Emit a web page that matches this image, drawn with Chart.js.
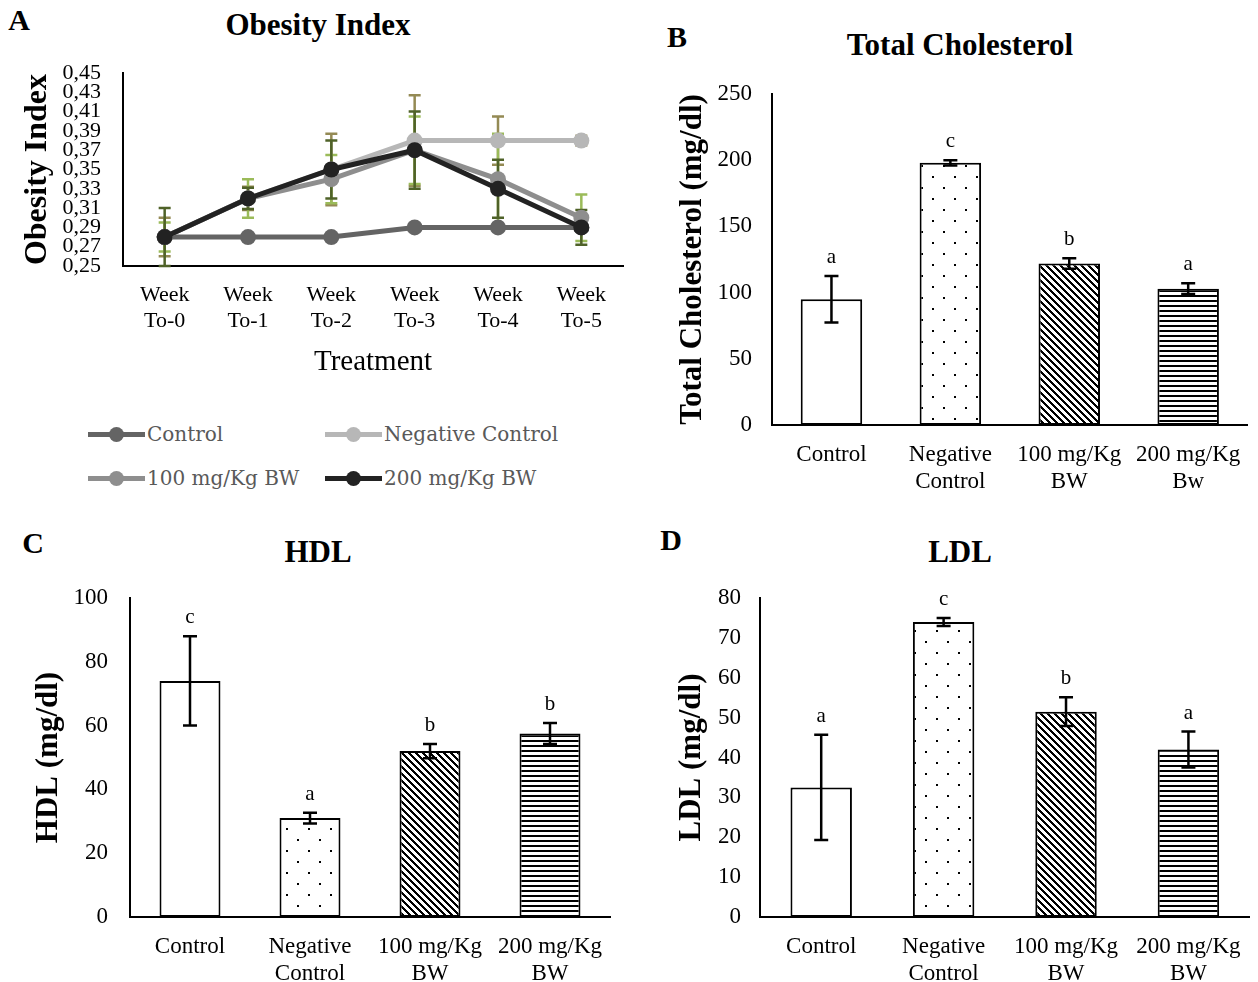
<!DOCTYPE html>
<html><head><meta charset="utf-8">
<script src="https://cdn.jsdelivr.net/npm/chart.js@4.4.0/dist/chart.umd.min.js"></script>
<style>
html,body{margin:0;padding:0;background:#fff;}
body{width:1258px;height:982px;position:relative;overflow:hidden;font-family:"Liberation Serif","Times New Roman",serif;}
canvas{position:absolute;}
.lbl{position:absolute;transform:translate(-50%,-50%);white-space:nowrap;font-weight:bold;color:#000;line-height:1;}
.title{font-size:31px;}
.panel{font-size:30px;}
.leg{position:absolute;height:30px;font-family:"DejaVu Serif",serif;font-size:20px;color:#595959;white-space:nowrap;}
.leg .smp{position:absolute;left:0;top:13px;width:57px;height:5px;}
.leg .dot{position:absolute;left:21px;top:8px;width:15px;height:15px;border-radius:50%;}
.leg .txt{position:absolute;left:59px;top:2px;line-height:26px;}
</style></head><body>
<div class="lbl panel" style="left:19px;top:20px">A</div>
<div class="lbl title" style="left:318px;top:24px">Obesity Index</div>
<div class="lbl panel" style="left:677px;top:37px">B</div>
<div class="lbl title" style="left:960px;top:44px">Total Cholesterol</div>
<div class="lbl panel" style="left:33px;top:543px">C</div>
<div class="lbl title" style="left:318px;top:551px">HDL</div>
<div class="lbl panel" style="left:671px;top:540px">D</div>
<div class="lbl title" style="left:960px;top:551px">LDL</div>

<canvas id="cA" width="640" height="400" style="left:0;top:0;width:640px;height:400px"></canvas>
<canvas id="cB" width="590" height="505" style="left:668px;top:0;width:590px;height:505px"></canvas>
<canvas id="cC" width="640" height="462" style="left:0;top:520px;width:640px;height:462px"></canvas>
<canvas id="cD" width="608" height="462" style="left:650px;top:520px;width:608px;height:462px"></canvas>
<div id="legendA"></div>

<script>
// ---------- DATA ----------
const weekLabels = [['Week','To-0'],['Week','To-1'],['Week','To-2'],['Week','To-3'],['Week','To-4'],['Week','To-5']];
const obesityTickLabels = ['0,25','0,27','0,29','0,31','0,33','0,35','0,37','0,39','0,41','0,43','0,45'];
const seriesNames = ['Control','Negative Control','100 mg/Kg BW','200 mg/Kg BW'];
const oiControl  = [0.28, 0.28, 0.28, 0.29, 0.29, 0.29];
const oiNegative = [0.28, 0.32, 0.35, 0.38, 0.38, 0.38];
const oi100      = [0.28, 0.32, 0.34, 0.37, 0.34, 0.30];
const oi200      = [0.28, 0.32, 0.35, 0.37, 0.33, 0.29];
const oiControlErr  = [0.003, 0.002, 0.002, 0.002, 0.002, 0.002];
const oiNegativeErr = [0.020, 0.012, 0.037, 0.047, 0.025, 0.005];
const oi100Err      = [0.015, 0.020, 0.025, 0.035, 0.047, 0.024];
const oi200Err      = [0.030, 0.011, 0.030, 0.040, 0.030, 0.018];

const groupLabels   = [['Control'],['Negative','Control'],['100 mg/Kg','BW'],['200 mg/Kg','BW']];
const groupLabelsTC = [['Control'],['Negative','Control'],['100 mg/Kg','BW'],['200 mg/Kg','Bw']];
const tcValues  = [95, 198, 122, 103];
const tcErr     = [17.5, 2, 4, 4];
const tcLetters = ['a','c','b','a'];
const hdlValues  = [74, 31, 52, 57.5];
const hdlErr     = [14, 1.7, 2.2, 3.3];
const hdlLetters = ['c','a','b','b'];
const ldlValues  = [32.5, 74, 51.5, 42];
const ldlErr     = [13.2, 1, 3.6, 4.5];
const ldlLetters = ['a','c','b','a'];

// ---------- STYLE ----------
const SERIF = '"Liberation Serif", "Times New Roman", serif';
const lineColors = ['#646464','#b7b7b7','#8e8e8e','#222222'];
const errColors  = ['#4f81bd','#948a54','#9bbb59','#4f6228'];

const errorBarPlugin = {
  id: 'errorBars',
  _draw(chart, layer) {
    const ctx = chart.ctx, y = chart.scales.y;
    chart.data.datasets.forEach((ds, di) => {
      const eb = ds.errorBars;
      if (!eb || eb.layer !== layer) return;
      const meta = chart.getDatasetMeta(di);
      ctx.save();
      ctx.strokeStyle = eb.color; ctx.lineWidth = eb.width; ctx.lineCap = 'butt';
      meta.data.forEach((el, i) => {
        const v = ds.data[i], e = eb.values[i];
        const x = el.x, y1 = y.getPixelForValue(v + e), y2 = y.getPixelForValue(v - e);
        ctx.beginPath();
        ctx.moveTo(x, y1); ctx.lineTo(x, y2);
        ctx.moveTo(x - eb.cap, y1); ctx.lineTo(x + eb.cap, y1);
        ctx.moveTo(x - eb.cap, y2); ctx.lineTo(x + eb.cap, y2);
        ctx.stroke();
      });
      ctx.restore();
    });
  },
  beforeDatasetsDraw(chart) { this._draw(chart, 'before'); },
  afterDatasetsDraw(chart) { this._draw(chart, 'after'); }
};

const letterPlugin = {
  id: 'sigLetters',
  afterDatasetsDraw(chart) {
    const ctx = chart.ctx, y = chart.scales.y;
    chart.data.datasets.forEach((ds, di) => {
      if (!ds.sigLetters) return;
      const meta = chart.getDatasetMeta(di);
      ctx.save();
      ctx.fillStyle = '#000'; ctx.font = '21px ' + SERIF;
      ctx.textAlign = 'center'; ctx.textBaseline = 'alphabetic';
      meta.data.forEach((el, i) => {
        const top = y.getPixelForValue(ds.data[i] + ds.errorBars.values[i]);
        ctx.fillText(ds.sigLetters[i], el.x, top - 13);
      });
      ctx.restore();
    });
  }
};

function makePattern(ctx, type) {
  const c = document.createElement('canvas');
  const g = c.getContext('2d');
  if (type === 'dots') {
    c.width = 22; c.height = 22;
    g.fillStyle = '#fff'; g.fillRect(0, 0, 22, 22);
    g.fillStyle = '#000'; g.fillRect(0, 0, 2, 2); g.fillRect(11, 11, 2, 2);
  } else if (type === 'diag') {
    c.width = 7; c.height = 7;
    g.fillStyle = '#fff'; g.fillRect(0, 0, 7, 7);
    g.fillStyle = '#000';
    for (let r = 0; r < 7; r++) for (let k = 0; k < 3; k++) g.fillRect((r + k) % 7, r, 1, 1);
  } else {
    c.width = 5; c.height = 5;
    g.fillStyle = '#fff'; g.fillRect(0, 0, 5, 5);
    g.fillStyle = '#000'; g.fillRect(0, 0, 5, 2);
  }
  return ctx.createPattern(c, 'repeat');
}

// ---------- PANEL A ----------
(function () {
  const ctx = document.getElementById('cA').getContext('2d');
  const vals = [oiControl, oiNegative, oi100, oi200];
  const errs = [oiControlErr, oiNegativeErr, oi100Err, oi200Err];
  const datasets = vals.map((v, i) => ({
    label: seriesNames[i], data: v,
    borderColor: lineColors[i], backgroundColor: lineColors[i],
    pointBackgroundColor: lineColors[i], pointBorderWidth: 0,
    borderWidth: 5, pointRadius: 8, tension: 0, order: 3 - i,
    errorBars: { values: errs[i], color: errColors[i], width: 2.5, cap: 6, layer: 'before' }
  }));
  new Chart(ctx, {
    type: 'line',
    data: { labels: weekLabels, datasets },
    options: {
      responsive: false, animation: false, events: [], devicePixelRatio: 1,
      layout: { padding: { top: 73, right: 17, bottom: 0, left: 0 } },
      plugins: { legend: { display: false }, tooltip: { enabled: false } },
      scales: {
        x: {
          offset: true,
          grid: { display: false, drawTicks: false },
          border: { display: true, color: '#000', width: 2 },
          ticks: { font: { family: SERIF, size: 22, lineHeight: 1.2 }, color: '#000', padding: 16, maxRotation: 0, autoSkip: false },
          title: { display: true, text: 'Treatment', color: '#000', font: { family: SERIF, size: 29 }, padding: { top: 0, bottom: 20 } },
          afterFit(s) { s.height = 134; }
        },
        y: {
          min: 0.25, max: 0.45,
          grid: { display: false, drawTicks: false },
          border: { display: true, color: '#000', width: 2 },
          ticks: { stepSize: 0.02, autoSkip: false, color: '#000', padding: 22,
                   font: { family: SERIF, size: 22, lineHeight: 1 },
                   callback: (v, i) => obesityTickLabels[i] },
          title: { display: true, text: 'Obesity Index', color: '#000', font: { family: SERIF, size: 32, weight: 'bold' }, padding: { top: 19, bottom: 0 } },
          afterFit(s) { s.width = 123; }
        }
      }
    },
    plugins: [errorBarPlugin]
  });
  // legend
  const pos = [[88, 419], [325, 419], [88, 463], [325, 463]];
  const leg = document.getElementById('legendA');
  seriesNames.forEach((n, i) => {
    const d = document.createElement('div');
    d.className = 'leg';
    d.style.left = pos[i][0] + 'px'; d.style.top = pos[i][1] + 'px';
    d.innerHTML = '<div class="smp" style="background:' + lineColors[i] + '"></div>' +
                  '<div class="dot" style="background:' + lineColors[i] + '"></div>' +
                  '<div class="txt"></div>';
    d.querySelector('.txt').textContent = n;
    leg.appendChild(d);
  });
})();

// ---------- BAR PANELS ----------
function makeBar(id, c) {
  const ctx = document.getElementById(id).getContext('2d');
  const fills = ['#ffffff', makePattern(ctx, 'dots'), makePattern(ctx, 'diag'), makePattern(ctx, 'horiz')];
  return new Chart(ctx, {
    type: 'bar',
    data: { labels: c.labels, datasets: [{
      data: c.values, backgroundColor: fills, borderColor: '#000', borderWidth: 2, borderSkipped: false,
      barPercentage: c.barPct, categoryPercentage: 1,
      errorBars: { values: c.errs, color: '#000', width: 2.5, cap: 7, layer: 'after' },
      sigLetters: c.letters
    }] },
    options: {
      responsive: false, animation: false, events: [], devicePixelRatio: 1,
      layout: { padding: { top: c.top, right: c.right, bottom: 0, left: 0 } },
      plugins: { legend: { display: false }, tooltip: { enabled: false } },
      scales: {
        x: {
          grid: { display: false, drawTicks: false },
          border: { display: true, color: '#000', width: 2 },
          ticks: { font: { family: SERIF, size: 23, lineHeight: 1.15 }, color: '#000', padding: 17, maxRotation: 0, autoSkip: false },
          afterFit(s) { s.height = c.xH; }
        },
        y: {
          min: 0, max: c.max,
          grid: { display: false, drawTicks: false },
          border: { display: true, color: '#000', width: 2 },
          ticks: { stepSize: c.step, color: '#000', padding: c.tickPad, font: { family: SERIF, size: 23 } },
          title: { display: true, text: c.yTitle, color: '#000', font: { family: SERIF, size: 31, weight: 'bold' }, padding: { top: c.titlePad, bottom: 0 } },
          afterFit(s) { s.width = c.yW; }
        }
      }
    },
    plugins: [errorBarPlugin, letterPlugin]
  });
}

makeBar('cB', { labels: groupLabelsTC, values: tcValues, errs: tcErr, letters: tcLetters,
  max: 250, step: 50, yTitle: 'Total Cholesterol (mg/dl)', top: 94, right: 6, xH: 80, yW: 104,
  tickPad: 20, titlePad: 6, barPct: 0.517 });
makeBar('cC', { labels: groupLabels, values: hdlValues, errs: hdlErr, letters: hdlLetters,
  max: 100, step: 20, yTitle: 'HDL (mg/dl)', top: 78, right: 30, xH: 65, yW: 130,
  tickPad: 22, titlePad: 30, barPct: 0.508 });
makeBar('cD', { labels: groupLabels, values: ldlValues, errs: ldlErr, letters: ldlLetters,
  max: 80, step: 10, yTitle: 'LDL (mg/dl)', top: 78, right: 4, xH: 65, yW: 110,
  tickPad: 19, titlePad: 23, barPct: 0.502 });
</script>
</body></html>
